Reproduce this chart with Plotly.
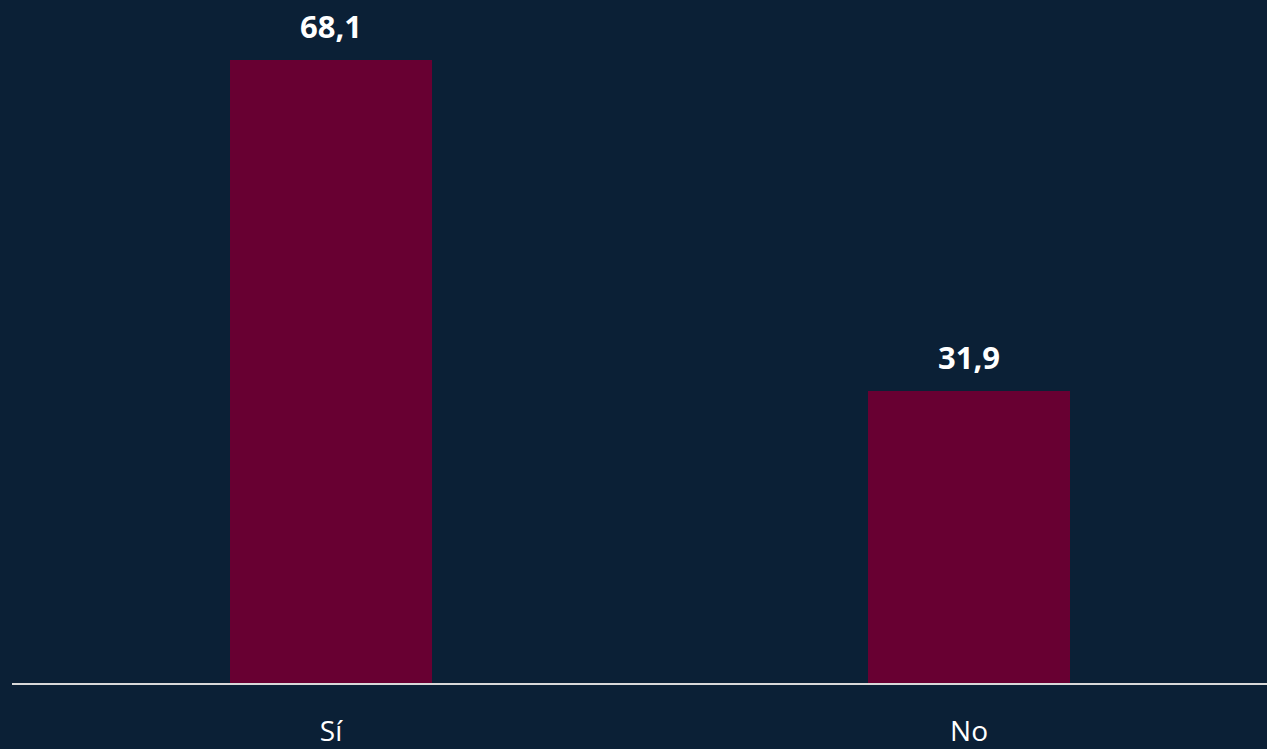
import plotly.graph_objects as go

categories = ["Sí", "No"]
values = [68.1, 31.9]
labels = ["68,1", "31,9"]

BG = "#0b2036"
BAR = "#680032"

fig = go.Figure()
fig.add_trace(go.Bar(
    x=categories, y=values, width=0.317,
    marker=dict(color=BAR, line=dict(width=0)),
    hoverinfo="skip",
))
for c, v, t in zip(categories, values, labels):
    fig.add_annotation(x=c, y=v, text=f"<b>{t}</b>", showarrow=False,
                       yanchor="bottom", yshift=11,
                       font=dict(family="Open Sans", size=31, color="white"))

fig.update_layout(
    width=1267, height=749,
    paper_bgcolor=BG, plot_bgcolor=BG,
    margin=dict(l=12, r=0, t=0, b=66),
    showlegend=False,
    bargap=0,
)
fig.update_xaxes(range=[-0.5, 1.467], showline=True, linecolor="#d9d9d9", linewidth=2,
                 showgrid=False, zeroline=False, ticks="", ticklabelstandoff=22,
                 tickfont=dict(family="Open Sans", size=28, color="white"))
fig.update_yaxes(range=[0, 74.66], visible=False, showgrid=False, zeroline=False)

fig.write_html("out.html", config={"displayModeBar": False},
               post_script="document.body.style.margin='0';document.body.style.background='#0b2036';")
